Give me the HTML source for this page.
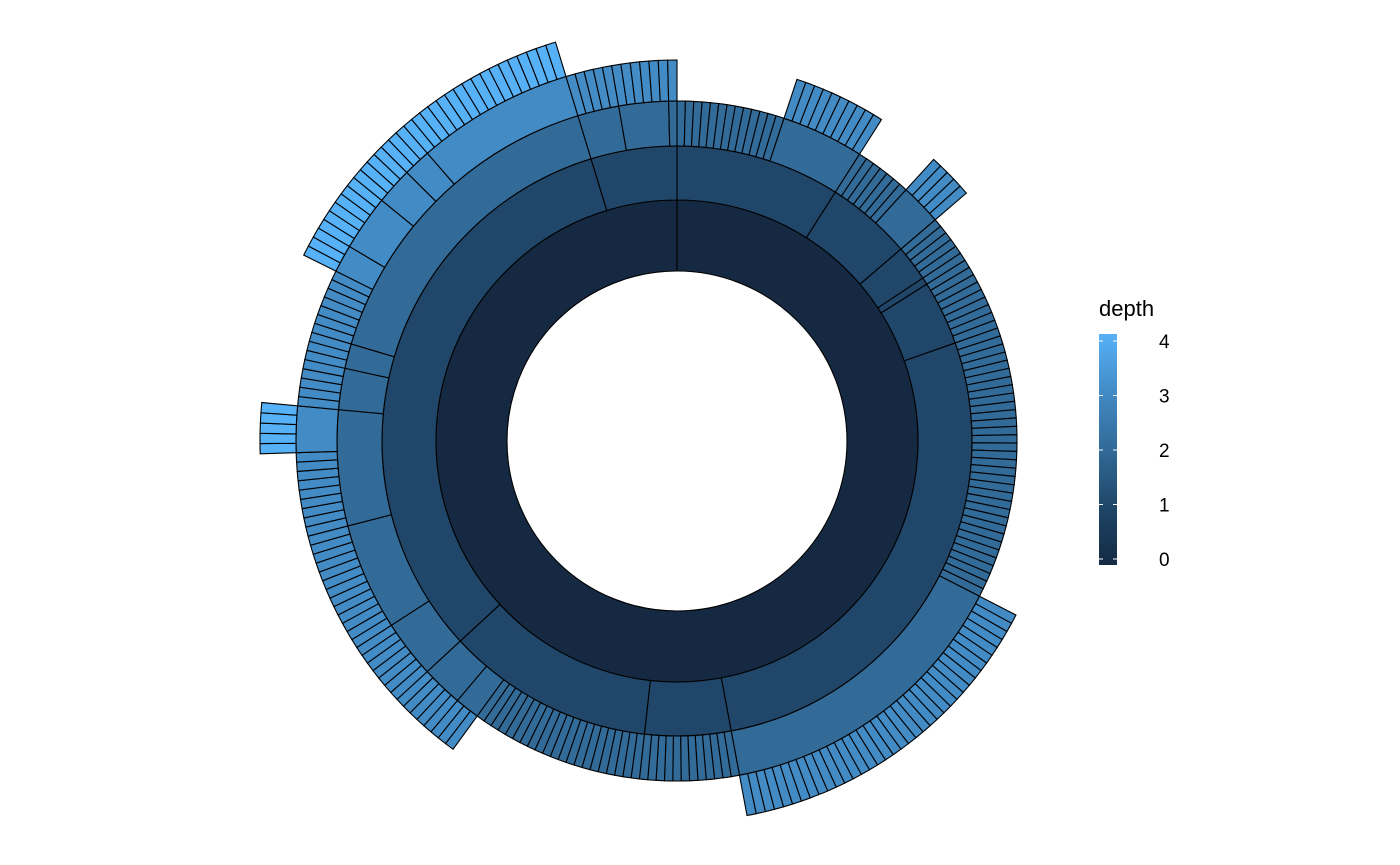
<!DOCTYPE html>
<html><head><meta charset="utf-8"><style>
html,body{margin:0;padding:0;background:#fff;}
svg{display:block;font-family:"Liberation Sans",sans-serif;}
</style></head><body>
<svg id="chart" width="1400" height="865" viewBox="0 0 1400 865">
<g id="rings"></g>
<g id="legend">
  <text x="1099" y="316" font-size="22" fill="#000">depth</text>
  <defs><linearGradient id="grad" x1="0" y1="1" x2="0" y2="0">
    <stop offset="0" stop-color="#132B43"/><stop offset="0.25" stop-color="#1f4668"/>
    <stop offset="0.5" stop-color="#326a98"/><stop offset="0.75" stop-color="#428bc5"/>
    <stop offset="1" stop-color="#56B1F7"/></linearGradient></defs>
  <rect x="1099" y="334" width="18" height="231" fill="url(#grad)"/>
  <g id="legend-ticks"></g>
</g>
</svg>
<script>
// Tree: numbers = count of leaf children, arrays = child nodes (clockwise from top)
const rootChildren = [
  [13, [10]],
  [7, [5]],
  [5],
  [1],
  [9],
  [33, [37]],
  [12],
  [21, [3], [5]],
  [[7], [13], [9, [5]], [5], [3], [7, [3], [6], [4], [3], [17]]],
  [[5], [6], [1]]
];
const legendTicks = [0, 1, 2, 3, 4];
const depthColors = ["#152a42", "#20466a", "#326a98", "#428bc5", "#56b1f7"];

const cx = 677, cy = 441;
const radii = [170, 241, 295, 340, 381, 417];
const NS = "http://www.w3.org/2000/svg";
const g = document.getElementById('rings');

function countLeaves(node) {
  if (typeof node === 'number') return node;
  return node.reduce((s, c) => s + countLeaves(c), 0);
}
const total = countLeaves(rootChildren);
function ang(u) { return u / total * 2 * Math.PI; }
function pt(r, a) { return [cx + r * Math.sin(a), cy - r * Math.cos(a)]; }

function arc(depth, u0, u1) {
  const r0 = radii[depth], r1 = radii[depth + 1];
  const el = document.createElementNS(NS, 'path');
  let d;
  if (u1 - u0 >= total) {
    const p0 = pt(r1, 0), p1 = pt(r1, Math.PI), q0 = pt(r0, 0), q1 = pt(r0, Math.PI);
    d = `M${p0} A${r1},${r1} 0 1 1 ${p1} A${r1},${r1} 0 1 1 ${p0} L${q0} A${r0},${r0} 0 1 0 ${q1} A${r0},${r0} 0 1 0 ${q0} Z`;
  } else {
    const a0 = ang(u0), a1 = ang(u1);
    const large = (a1 - a0) > Math.PI ? 1 : 0;
    const p0 = pt(r1, a0), p1 = pt(r1, a1), q1 = pt(r0, a1), q0 = pt(r0, a0);
    d = `M${p0} A${r1},${r1} 0 ${large} 1 ${p1} L${q1} A${r0},${r0} 0 ${large} 0 ${q0} Z`;
  }
  el.setAttribute('d', d);
  el.setAttribute('fill', depthColors[depth]);
  el.setAttribute('stroke', '#000');
  el.setAttribute('stroke-width', '1.1');
  
  
  g.appendChild(el);
}

function draw(node, depth, start) {
  if (typeof node === 'number') {
    for (let i = 0; i < node; i++) arc(depth, start + i, start + i + 1);
    return start + node;
  }
  const size = countLeaves(node);
  arc(depth, start, start + size);
  let u = start;
  node.forEach(c => { u = draw(c, depth + 1, u); });
  return start + size;
}
arc(0, 0, total);
(function(){
  const l = document.createElementNS(NS, 'line');
  l.setAttribute('x1', cx); l.setAttribute('y1', cy - radii[0]);
  l.setAttribute('x2', cx); l.setAttribute('y2', cy - radii[1]);
  l.setAttribute('stroke', '#000'); l.setAttribute('stroke-width', '1.1');
  
  
  g.appendChild(l);
})();
let u = 0;
rootChildren.forEach(c => { u = draw(c, 1, u); });

const lt = document.getElementById('legend-ticks');
const barTop = 341, barBottom = 559;
legendTicks.forEach(v => {
  const y = barBottom - (v / 4) * (barBottom - barTop);
  [[1099, 1103], [1113, 1117]].forEach(([a, b]) => {
    const l = document.createElementNS(NS, 'line');
    l.setAttribute('x1', a); l.setAttribute('x2', b);
    l.setAttribute('y1', y); l.setAttribute('y2', y);
    l.setAttribute('stroke', '#fff'); l.setAttribute('stroke-width', '1');
    
    
    lt.appendChild(l);
  });
  const t = document.createElementNS(NS, 'text');
  t.setAttribute('x', 1159); t.setAttribute('y', y + 7);
  t.setAttribute('font-size', '19'); t.setAttribute('fill', '#000');
  t.textContent = v;
  
  
  lt.appendChild(t);
});
</script>
</body></html>
